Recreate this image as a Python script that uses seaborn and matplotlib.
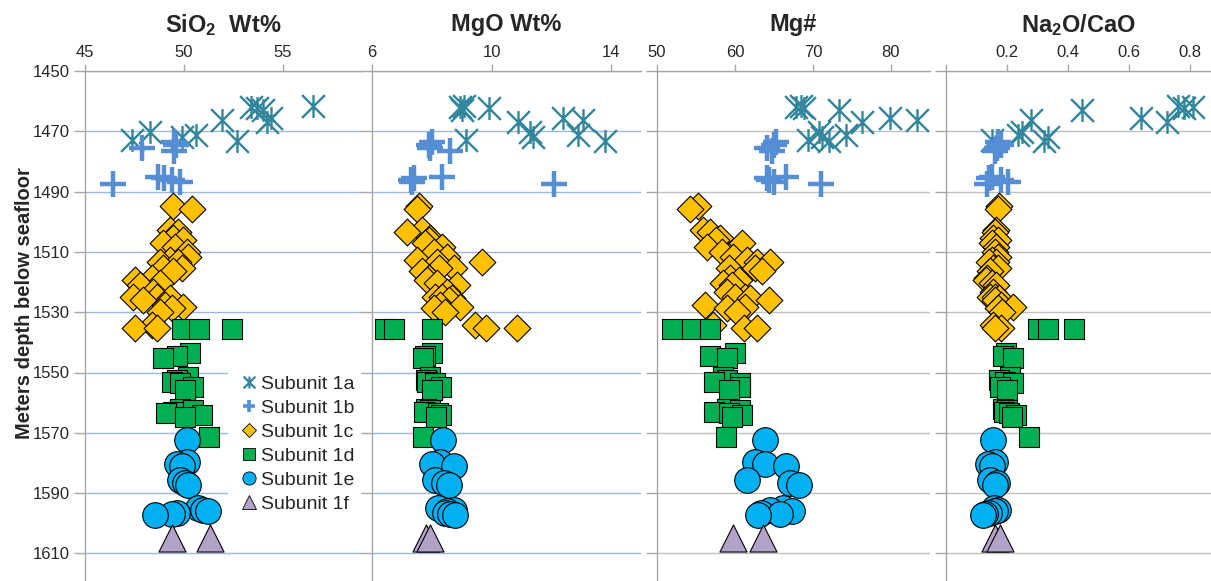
import numpy as np
import pandas as pd
import matplotlib
matplotlib.use("Agg")
import matplotlib.pyplot as plt
from matplotlib.path import Path
from matplotlib.lines import Line2D
import seaborn as sns

# depths (m below seafloor) per subunit
depth_1a = [1461.5, 1461.8, 1462.4, 1463.0, 1465.7, 1466.3, 1466.8, 1470.2, 1471.2, 1471.8, 1472.9, 1473.2]
depth_1b = [1473.5, 1474.5, 1475.6, 1476.5, 1485.0, 1485.6, 1486.2, 1486.7, 1487.5]
depth_1c = [1494.7, 1495.8, 1502.7, 1503.3, 1505.5, 1506.0, 1507.1, 1508.3, 1509.9, 1511.6, 1512.7,
            1513.2, 1513.2, 1515.4, 1515.4, 1516.5, 1518.8, 1519.3, 1520.4, 1521.0, 1523.2, 1524.8,
            1524.8, 1525.4, 1526.0, 1527.6, 1528.2, 1528.7, 1529.8, 1534.2, 1535.3, 1535.3]
depth_1d = [1535.6, 1535.6, 1535.6, 1543.5, 1544.5, 1545.2, 1551.5, 1552.5, 1553.0, 1553.6, 1554.7,
            1555.8, 1562.0, 1562.6, 1563.0, 1563.5, 1564.1, 1564.7, 1571.5]
depth_1e = [1572.3, 1579.6, 1580.2, 1581.0, 1585.7, 1586.5, 1587.3, 1595.0, 1595.6, 1596.0, 1596.5,
            1597.0, 1597.3]
depth_1f = [1605.0, 1605.0]

sio2 = {
    "1a": [56.5, 53.4, 53.7, 54.0, 54.4, 51.9, 54.2, 48.3, 50.6, 49.9, 47.4, 52.7],
    "1b": [49.5, 49.6, 47.9, 49.5, 48.7, 49.0, 49.4, 49.8, 46.4],
    "1c": [49.43, 50.39, 49.30, 49.72, 49.46, 49.97, 48.96, 49.55, 50.14, 50.22, 49.30, 48.79, 49.72,
           49.88, 48.96, 49.46, 48.37, 47.53, 48.79, 47.78, 48.45, 47.44, 48.62, 49.30, 47.95, 49.04,
           49.97, 49.38, 48.79, 48.37, 47.53, 48.62],
    "1d": [49.88, 50.77, 52.44, 50.3, 49.63, 48.96, 50.2, 49.63, 49.4, 49.8, 50.47, 50.05,
           49.8, 50.47, 49.46, 49.1, 50.9, 50.05, 51.28],
    "1e": [50.13, 50.13, 49.63, 49.9, 49.8, 50.05, 50.2, 50.7, 50.97, 51.2, 49.63, 49.38, 48.54],
    "1f": [49.38, 51.3],
}
mgo = {
    "1a": [9.07, 8.96, 9.9, 9.0, 12.4, 13.05, 10.9, 11.3, 12.9, 11.4, 9.13, 13.8],
    "1b": [8.0, 7.9, 7.95, 8.6, 8.34, 7.4, 7.3, 7.35, 12.1],
    "1c": [7.56, 7.50, 7.67, 7.16, 7.95, 7.9, 7.78, 8.34, 8.06, 8.51, 7.50, 8.17, 9.69, 8.73, 8.23,
           7.67, 7.9, 7.84, 8.17, 8.85, 8.51, 8.12, 8.34, 8.68, 8.57, 8.29, 8.96, 8.06, 8.45, 9.46,
           10.86, 9.80],
    "1d": [6.44, 6.72, 8.0, 8.0, 7.78, 7.72, 7.95, 7.8, 7.85, 8.1, 8.3, 8.0,
           7.8, 7.95, 7.75, 8.2, 8.3, 8.15, 7.7],
    "1e": [8.38, 8.29, 8.0, 8.73, 8.12, 8.4, 8.56, 8.2, 8.73, 8.5, 8.45, 8.62, 8.78],
    "1f": [7.8, 7.95],
}
mgnum = {
    "1a": [68.4, 67.8, 68.8, 73.3, 79.9, 83.3, 76.3, 70.8, 74.2, 71.2, 69.3, 72.0],
    "1b": [65.2, 65.0, 64.1, 64.8, 66.5, 64.1, 64.3, 65.0, 71.0],
    "1c": [55.32, 54.25, 55.96, 56.8, 58.1, 57.5, 60.9, 56.4, 58.3, 59.8, 61.5, 62.8, 64.5, 59.2,
           62.6, 63.5, 59.4, 60.5, 58.5, 59.6, 59.0, 61.3, 60.0, 61.97, 64.3, 56.2, 61.3, 59.0, 60.3,
           57.2, 61.1, 62.8],
    "1d": [51.9, 54.5, 56.8, 60.0, 56.8, 59.0, 58.4, 59.0, 57.3, 60.7, 60.7, 59.2,
           59.0, 60.6, 57.3, 59.2, 60.9, 59.6, 58.9],
    "1e": [63.9, 62.6, 63.9, 66.5, 61.5, 67.1, 68.2, 66.2, 64.5, 67.3, 63.3, 65.8, 63.0],
    "1f": [59.7, 63.6],
}
naca = {
    "1a": [0.762, 0.81, 0.78, 0.445, 0.64, 0.28, 0.726, 0.25, 0.237, 0.335, 0.15, 0.32],
    "1b": [0.17, 0.18, 0.166, 0.16, 0.15, 0.14, 0.18, 0.204, 0.133],
    "1c": [0.175, 0.170, 0.165, 0.16, 0.155, 0.17, 0.15, 0.165, 0.16, 0.17, 0.15, 0.165, 0.14, 0.155,
           0.17, 0.145, 0.135, 0.13, 0.15, 0.165, 0.155, 0.145, 0.16, 0.175, 0.16, 0.18, 0.22, 0.17,
           0.185, 0.155, 0.18, 0.16],
    "1d": [0.303, 0.335, 0.42, 0.197, 0.188, 0.22, 0.21, 0.175, 0.195, 0.22, 0.177, 0.199,
           0.187, 0.2, 0.19, 0.207, 0.23, 0.215, 0.273],
    "1e": [0.153, 0.16, 0.139, 0.15, 0.144, 0.166, 0.16, 0.156, 0.17, 0.16, 0.14, 0.128, 0.122],
    "1f": [0.16, 0.177],
}

subunits = ["1a", "1b", "1c", "1d", "1e", "1f"]
depths = {"1a": depth_1a, "1b": depth_1b, "1c": depth_1c, "1d": depth_1d, "1e": depth_1e, "1f": depth_1f}

# build one long table
rows = []
for su in subunits:
    for i, d in enumerate(depths[su]):
        rows.append({"subunit": su, "depth": d, "sio2": sio2[su][i], "mgo": mgo[su][i],
                     "mgnum": mgnum[su][i], "naca": naca[su][i]})
df = pd.DataFrame(rows)

# excel style "star" marker: an X with a vertical bar
star = Path([(-1, -1), (1, 1), (-1, 1), (1, -1), (0, -1), (0, 1)],
            [Path.MOVETO, Path.LINETO, Path.MOVETO, Path.LINETO, Path.MOVETO, Path.LINETO])

styles = {
    "1a": dict(marker=star, s=270, color="#31859C", edgecolor="#31859C", linewidth=1.7),
    "1b": dict(marker="+", s=330, color="#558ED5", edgecolor="#558ED5", linewidth=3.2),
    "1c": dict(marker="D", s=185, color="#FFC000", edgecolor="black", linewidth=0.8),
    "1d": dict(marker="s", s=195, color="#00B050", edgecolor="black", linewidth=0.8),
    "1e": dict(marker="o", s=340, color="#00B0F0", edgecolor="black", linewidth=0.8),
    "1f": dict(marker="^", s=380, color="#B3A2C7", edgecolor="black", linewidth=0.8),
}

sns.set_style("white")
plt.rcParams["font.family"] = ["Liberation Sans", "DejaVu Sans"]
plt.rcParams["mathtext.fontset"] = "custom"
plt.rcParams["mathtext.rm"] = "Liberation Sans:bold"
plt.rcParams["mathtext.default"] = "rm"

fig = plt.figure(figsize=(12.11, 5.81), dpi=100)
W, H = 1211, 581
top_px = 71
panels = [
    ("sio2", r"SiO$_2$  Wt%", 85, 277, (45, 59), [45, 50, 55], ["45", "50", "55"], "#9DB8E0"),
    ("mgo", "MgO Wt%", 372, 269, (6, 15), [6, 10, 14], ["6", "10", "14"], "#9DB8E0"),
    ("mgnum", "Mg#", 657, 273, (50, 85), [50, 60, 70, 80], ["50", "60", "70", "80"], "#C0C0C0"),
    ("naca", r"Na$_2$O/CaO", 946, 265, (0, 0.869), [0, 0.2, 0.4, 0.6, 0.8],
     ["", "0.2", "0.4", "0.6", "0.8"], "#C0C0C0"),
]
yticks = list(range(1450, 1611, 20))
axes = []
for k, (col, title, left, width, xlim, xt, xtl, gcol) in enumerate(panels):
    ax = fig.add_axes([left / W, 0, width / W, (H - top_px) / H])
    for su in subunits:
        sns.scatterplot(data=df[df["subunit"] == su], x=col, y="depth", ax=ax, legend=False,
                        zorder=3, **styles[su])
    ax.set_xlim(*xlim)
    ax.set_ylim(1450 + (H - top_px) / 3.015, 1450)
    ax.set_xticks(xt)
    ax.set_xticklabels(xtl)
    ax.set_yticks(yticks)
    if k == 0:
        ax.set_yticklabels([str(t) for t in yticks])
    else:
        ax.set_yticklabels([])
    ax.xaxis.tick_top()
    ax.tick_params(axis="x", top=True, bottom=False, labeltop=True, labelbottom=False,
                   direction="out", length=5, width=1, color="#A6A6A6", labelsize=12, pad=3)
    ax.tick_params(axis="y", left=True, direction="out", length=8, width=1, color="#A6A6A6",
                   labelsize=12, pad=3)
    ax.set_xlabel("")
    ax.set_ylabel("")
    ax.grid(False)
    ax.grid(axis="y", color=gcol, linewidth=1.0, zorder=0)
    ax.set_axisbelow(True)
    for side in ["right", "bottom"]:
        ax.spines[side].set_visible(False)
    for side in ["top", "left"]:
        ax.spines[side].set_color("#A6A6A6")
        ax.spines[side].set_linewidth(1.0)
    ax.text(0.5, 1 + 46 / (H - top_px), title, transform=ax.transAxes, ha="center", va="center",
            fontsize=17, fontweight="bold")
    axes.append(ax)

# legend in the first panel
handles = [
    Line2D([], [], linestyle="none", marker=star, markersize=8.5, markeredgewidth=1.6,
           color="#31859C"),
    Line2D([], [], linestyle="none", marker="+", markersize=9, markeredgewidth=2.6,
           color="#558ED5"),
    Line2D([], [], linestyle="none", marker="D", markersize=7, markerfacecolor="#FFC000",
           markeredgecolor="black", markeredgewidth=0.6),
    Line2D([], [], linestyle="none", marker="s", markersize=9, markerfacecolor="#00B050",
           markeredgecolor="black", markeredgewidth=0.6),
    Line2D([], [], linestyle="none", marker="o", markersize=9.5, markerfacecolor="#00B0F0",
           markeredgecolor="black", markeredgewidth=0.6),
    Line2D([], [], linestyle="none", marker="^", markersize=9.5, markerfacecolor="#B3A2C7",
           markeredgecolor="black", markeredgewidth=0.6),
]
labels = ["Subunit " + su for su in subunits]
leg = axes[0].legend(handles, labels, loc="center left", bbox_to_anchor=(0.516, 0.268),
                     fontsize=14, frameon=True, facecolor="white", edgecolor="none", framealpha=1,
                     handlelength=0.8, handletextpad=0.2, labelspacing=0.33, borderpad=0.7,
                     borderaxespad=0)
leg.set_zorder(5)

fig.text(25 / W, 1 - 303 / H, "Meters depth below seafloor", rotation=90, ha="center",
         va="center", fontsize=14.5, fontweight="bold")

fig.savefig("out.png", dpi=100)
